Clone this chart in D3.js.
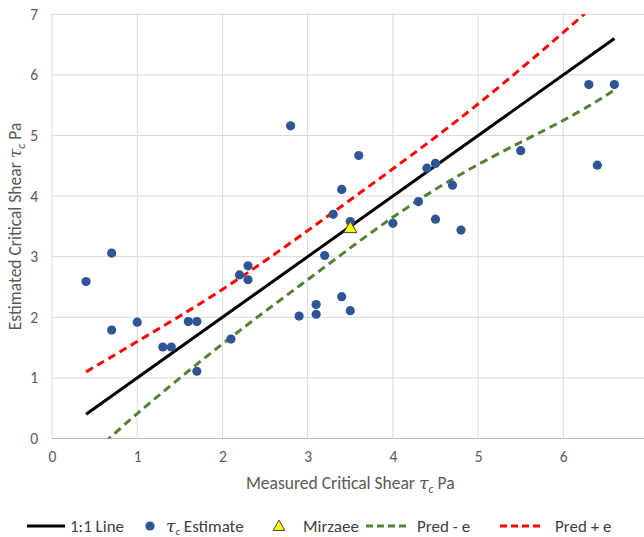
<!DOCTYPE html>
<html>
<head>
<meta charset="utf-8">
<script src="https://cdn.jsdelivr.net/npm/d3@7"></script>
<style>
  body { margin: 0; background: #fff; }
  svg { display: block; font-family: Carlito, Lato, sans-serif; }
  .tick text { fill: #595959; font-size: 15.5px; }
  .axes_label { fill: #595959; font-size: 17.5px; }
  .legend_text { fill: #404040; font-size: 17px; }
</style>
</head>
<body>
<svg id="graph" width="644" height="537"></svg>
<script>
/*******************************************************************************************/
// Chart values

var measured  = [0.4, 0.7, 0.7, 1.0, 1.3, 1.4, 1.6, 1.7, 1.7, 2.1, 2.2, 2.3, 2.3, 2.8, 2.9, 3.1, 3.1, 3.2,
                 3.3, 3.4, 3.4, 3.5, 3.5, 3.6, 4.0, 4.3, 4.4, 4.5, 4.5, 4.7, 4.8, 5.5, 6.3, 6.4, 6.6];
var estimated = [2.59, 3.06, 1.79, 1.92, 1.51, 1.51, 1.93, 1.93, 1.11, 1.64, 2.70, 2.85, 2.62, 5.16, 2.02, 2.21, 2.05, 3.02,
                 3.70, 4.11, 2.34, 3.58, 2.11, 4.67, 3.55, 3.91, 4.46, 4.54, 3.62, 4.18, 3.44, 4.75, 5.84, 4.51, 5.84];

var mirzaeeX = [3.5];
var mirzaeeY = [3.46];

var oneToOneX = [0.4, 6.6];
var oneToOneY = [0.4, 6.6];

var predX     = [0.4, 1.0, 2.0, 3.0, 4.0, 5.0, 6.0, 6.6];
var predMinus = [-0.35, 0.41, 1.56, 2.62, 3.65, 4.52, 5.25, 5.75];
var predPlus  = [1.10, 1.60, 2.46, 3.43, 4.45, 5.52, 6.70, 7.45];

var xTicks = [0, 1, 2, 3, 4, 5, 6, 7];
var yTicks = [0, 1, 2, 3, 4, 5, 6, 7];

/*******************************************************************************************/
// Scales and frame

var svg = d3.select('#graph');
var pLeft = 52, pTop = 14.3, pRight = 648.5, pBottom = 438.5;

var xScale = d3.scaleLinear().domain([0, 7]).range([pLeft, pRight]);
var yScale = d3.scaleLinear().domain([0, 7]).range([pBottom, pTop]);

svg.append('defs').append('clipPath').attr('id', 'plotClip')
  .append('rect').attr('x', pLeft).attr('y', pTop).attr('width', pRight - pLeft).attr('height', pBottom - pTop);

// gridlines
svg.append('g').selectAll('line').data(xTicks).enter().append('line')
  .attr('x1', d => xScale(d)).attr('x2', d => xScale(d))
  .attr('y1', pTop).attr('y2', pBottom)
  .style('stroke', '#d9d9d9').style('stroke-width', 1);
svg.append('g').selectAll('line').data(yTicks).enter().append('line')
  .attr('x1', pLeft).attr('x2', pRight)
  .attr('y1', d => yScale(d)).attr('y2', d => yScale(d))
  .style('stroke', d => d === 0 ? '#bfbfbf' : '#d9d9d9').style('stroke-width', 1);

// axes (labels only)
var xAxis = svg.append('g').attr('transform', 'translate(0,' + pBottom + ')')
  .call(d3.axisBottom(xScale).tickValues(xTicks.slice(0, 7)).tickFormat(d3.format('d')).tickSize(0).tickPadding(12));
var yAxis = svg.append('g').attr('transform', 'translate(' + pLeft + ',0)')
  .call(d3.axisLeft(yScale).tickValues(yTicks).tickFormat(d3.format('d')).tickSize(0).tickPadding(14));
xAxis.select('.domain').remove();
yAxis.select('.domain').remove();
xAxis.attr('font-family', null).attr('font-size', null);
yAxis.attr('font-family', null).attr('font-size', null);

// axis titles
function tauLabel(sel, pre){
  sel.append('tspan').text(pre);
  sel.append('tspan').style('font-style', 'italic').style('font-family', 'DejaVu Serif, serif').text('τ');
  sel.append('tspan').style('font-style', 'italic').style('font-size', '12px').attr('dy', 4).text('c');
  sel.append('tspan').attr('dy', -4).text(' Pa');
}
svg.append('text').attr('class', 'axes_label')
  .attr('x', (pLeft + pRight) / 2).attr('y', 489).style('text-anchor', 'middle')
  .call(tauLabel, 'Measured Critical Shear ');
svg.append('text').attr('class', 'axes_label')
  .attr('transform', 'translate(21,' + ((pTop + pBottom) / 2) + ') rotate(-90)').style('text-anchor', 'middle')
  .call(tauLabel, 'Estimated Critical Shear ');

/*******************************************************************************************/
// Series

var lineGen = d3.line().x(d => xScale(d.x)).y(d => yScale(d.y)).curve(d3.curveNatural);
var plot = svg.append('g').attr('clip-path', 'url(#plotClip)');

var styles = {
  one:   { stroke: '#000000', dash: null },
  minus: { stroke: '#548235', dash: '8,5' },
  plus:  { stroke: '#ff0000', dash: '8,5' }
};

plot.append('path').datum(predX.map((x, i) => ({ x: x, y: predMinus[i] })))
  .attr('d', lineGen).style('fill', 'none').style('stroke', styles.minus.stroke)
  .style('stroke-width', 3).style('stroke-dasharray', styles.minus.dash);
plot.append('path').datum(predX.map((x, i) => ({ x: x, y: predPlus[i] })))
  .attr('d', lineGen).style('fill', 'none').style('stroke', styles.plus.stroke)
  .style('stroke-width', 3).style('stroke-dasharray', styles.plus.dash);
plot.append('path').datum(oneToOneX.map((x, i) => ({ x: x, y: oneToOneY[i] })))
  .attr('d', lineGen).style('fill', 'none').style('stroke', styles.one.stroke).style('stroke-width', 3);

plot.append('g').selectAll('circle').data(measured).enter().append('circle')
  .attr('cx', d => xScale(d)).attr('cy', (d, i) => yScale(estimated[i])).attr('r', 4.6)
  .style('fill', '#2f5597');

var tri = d3.symbol().type(d3.symbolTriangle).size(75);
plot.append('g').selectAll('path').data(mirzaeeX).enter().append('path')
  .attr('d', tri)
  .attr('transform', (d, i) => 'translate(' + xScale(d) + ',' + yScale(mirzaeeY[i]) + ')')
  .style('fill', '#ffff00').style('stroke', '#404040').style('stroke-width', 1);

/*******************************************************************************************/
// Legend

var ly = 526;
var legend = svg.append('g');

legend.append('line').attr('x1', 27).attr('x2', 65).attr('y1', ly).attr('y2', ly)
  .style('stroke', '#000').style('stroke-width', 3);
legend.append('text').attr('class', 'legend_text').attr('x', 70).attr('y', ly).attr('dy', '0.35em').text('1:1 Line');

legend.append('circle').attr('cx', 150).attr('cy', ly).attr('r', 4.6).style('fill', '#2f5597');
var est = legend.append('text').attr('class', 'legend_text').attr('x', 166).attr('y', ly).attr('dy', '0.35em');
est.append('tspan').style('font-style', 'italic').style('font-family', 'DejaVu Serif, serif').text('τ');
est.append('tspan').style('font-style', 'italic').style('font-size', '11px').attr('dy', 3).text('c');
est.append('tspan').attr('dy', -3).text(' Estimate');

legend.append('path').attr('d', d3.symbol().type(d3.symbolTriangle).size(60))
  .attr('transform', 'translate(279,' + (ly + 1) + ')')
  .style('fill', '#ffff00').style('stroke', '#404040').style('stroke-width', 1);
legend.append('text').attr('class', 'legend_text').attr('x', 303).attr('y', ly).attr('dy', '0.35em').text('Mirzaee');

legend.append('line').attr('x1', 366).attr('x2', 408).attr('y1', ly).attr('y2', ly)
  .style('stroke', styles.minus.stroke).style('stroke-width', 3).style('stroke-dasharray', '7,4');
legend.append('text').attr('class', 'legend_text').attr('x', 417).attr('y', ly).attr('dy', '0.35em').text('Pred - e');

legend.append('line').attr('x1', 500).attr('x2', 542).attr('y1', ly).attr('y2', ly)
  .style('stroke', styles.plus.stroke).style('stroke-width', 3).style('stroke-dasharray', '7,4');
legend.append('text').attr('class', 'legend_text').attr('x', 555).attr('y', ly).attr('dy', '0.35em').text('Pred + e');
</script>
</body>
</html>
